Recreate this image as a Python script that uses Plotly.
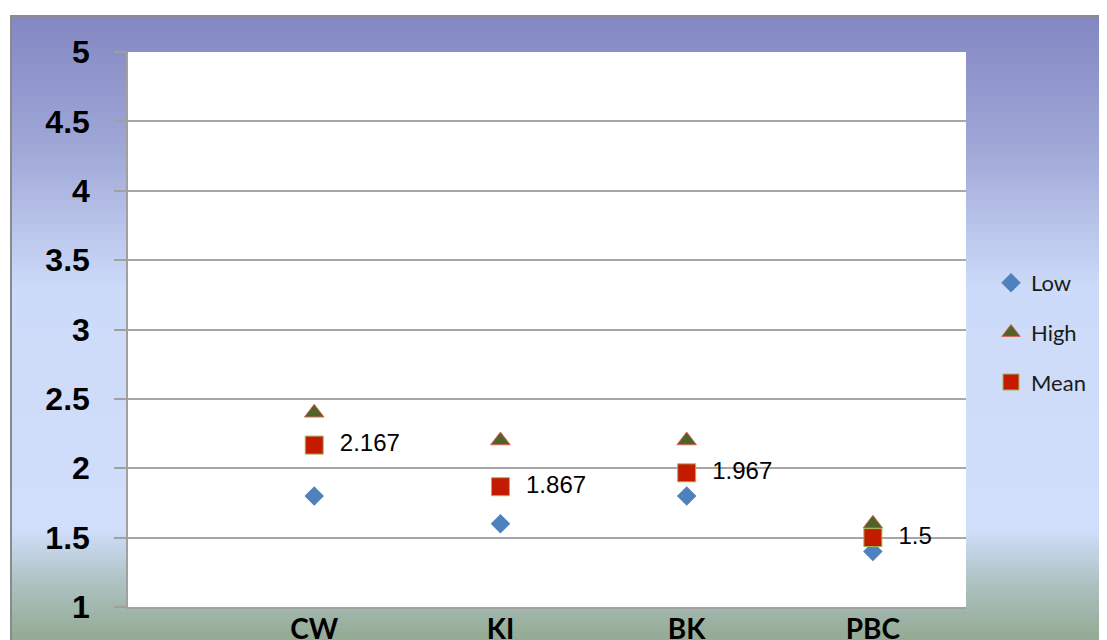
import plotly.graph_objects as go

categories = ["CW", "KI", "BK", "PBC"]
x_pos = [1, 2, 3, 4]
low = [1.8, 1.6, 1.8, 1.4]
high = [2.4, 2.2, 2.2, 1.6]
mean = [2.167, 1.867, 1.967, 1.5]
y_ticks = [1, 1.5, 2, 2.5, 3, 3.5, 4, 4.5, 5]
y_ticktext = ["1", "1.5", "2", "2.5", "3", "3.5", "4", "4.5", "5"]

OFF = 8  # page body margin
W, H = 1107 - OFF, 640 - OFF
L, T = 128 - OFF, 52 - OFF
pw, ph = 838, 555
R = W - L - pw
B = H - T - ph

def px_x(px):
    return (px - OFF - L) / pw

def px_y(py):
    return (T + ph - (py - OFF)) / ph

fig = go.Figure()

fig.add_trace(go.Scatter(
    x=x_pos, y=low, name="Low", mode="markers", legendgroup="a",
    marker=dict(symbol="diamond", size=15, color="#4F81BD",
                line=dict(width=0)),
))
fig.add_trace(go.Scatter(
    x=x_pos, y=high, name="High", mode="markers", legendgroup="b",
    marker=dict(symbol="triangle-up", size=17, color="#4F6228",
                line=dict(width=1, color="#D9665A")),
))
fig.add_trace(go.Scatter(
    x=x_pos, y=mean, name="Mean", mode="markers+text", legendgroup="c",
    marker=dict(symbol="square", size=18, color="#C41A00",
                line=dict(width=1, color="#9BBB59")),
    texttemplate="  %{y}", textposition="middle right",
    textfont=dict(family="Liberation Sans", size=24, color="#000000"),
))

# background gradient bands
stops = [
    (16, (131, 135, 195)),
    (150, (160, 168, 215)),
    (290, (205, 219, 250)),
    (530, (208, 222, 251)),
    (585, (172, 192, 192)),
    (640, (147, 170, 147)),
]

def color_at(py):
    for (y0, c0), (y1, c1) in zip(stops[:-1], stops[1:]):
        if y0 <= py <= y1:
            t = (py - y0) / (y1 - y0)
            return "rgb(%d,%d,%d)" % tuple(round(a + (b - a) * t) for a, b in zip(c0, c1))
    return "rgb(%d,%d,%d)" % stops[-1][1]

shapes = []
step = 4
py = 16
while py < 645:
    shapes.append(dict(
        type="rect", xref="paper", yref="paper", layer="below",
        x0=px_x(11), x1=px_x(1115), y0=px_y(py + step + 0.5), y1=px_y(py),
        fillcolor=color_at(py + step / 2), line=dict(width=0),
    ))
    py += step
shapes.append(dict(
    type="rect", xref="paper", yref="paper", layer="below",
    x0=px_x(11), x1=px_x(1115), y0=px_y(650), y1=px_y(16),
    fillcolor="rgba(0,0,0,0)", line=dict(width=2, color="#8A8A8A"),
))
# white plot area
shapes.append(dict(
    type="rect", xref="paper", yref="paper", layer="below",
    x0=0, x1=1, y0=0, y1=1, fillcolor="white", line=dict(width=0),
))

fig.update_layout(
    width=W, height=H,
    margin=dict(l=L, r=R, t=T, b=B, pad=0, autoexpand=False),
    paper_bgcolor="white",
    plot_bgcolor="white",
    shapes=shapes,
    showlegend=True,
    legend=dict(
        x=px_x(991), y=px_y(262), xanchor="left", yanchor="top",
        bgcolor="rgba(0,0,0,0)", traceorder="grouped", tracegroupgap=18,
        font=dict(family="Lato", size=22, color="#1a1a1a"),
        itemwidth=30,
    ),
    xaxis=dict(
        range=[0, 4.5], tickvals=x_pos, ticktext=categories,
        showgrid=False, zeroline=False, automargin=False,
        showline=True, linecolor="#A0A0A0", linewidth=1.5,
        ticks="", ticklabelstandoff=-3,
        tickfont=dict(family="Lato", size=28, color="#000000", weight="bold"),
    ),
    yaxis=dict(
        range=[1, 5], tickvals=y_ticks, ticktext=y_ticktext,
        showgrid=True, gridcolor="#A6A6A6", gridwidth=1.5, zeroline=False,
        showline=True, linecolor="#A0A0A0", linewidth=1.5, automargin=False,
        ticks="outside", ticklen=12, tickcolor="#A0A0A0", tickwidth=1.5,
        ticklabelstandoff=18,
        tickfont=dict(family="Liberation Sans", size=32, color="#000000", weight="bold"),
    ),
)

fig.write_html("out.html")
